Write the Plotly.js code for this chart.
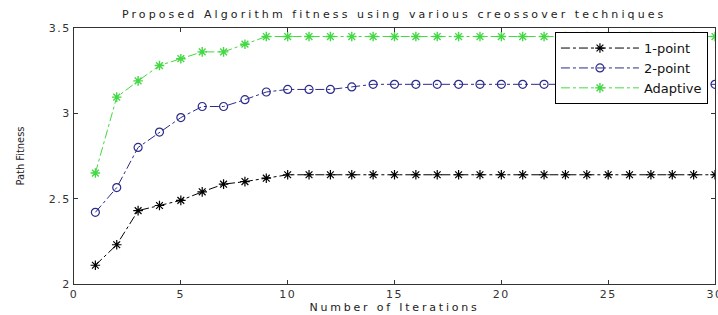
<!DOCTYPE html>
<html>
<head>
<meta charset="utf-8">
<script src="https://cdn.plot.ly/plotly-3.0.1.min.js"></script>
<style>
html,body{margin:0;padding:0;background:#fff;}
#chart{width:718px;height:315px;}
#chart .gtitle{letter-spacing:3.1px;}
#chart .xtitle{letter-spacing:2.8px;}
#chart .xtick text, #chart .ytick text{letter-spacing:1.5px;}
</style>
</head>
<body>
<div id="chart"></div>
<script>
const iterations = [1,2,3,4,5,6,7,8,9,10,11,12,13,14,15,16,17,18,19,20,21,22,23,24,25,26,27,28,29,30];
const onePoint = [2.11,2.23,2.43,2.46,2.49,2.54,2.585,2.6,2.62,2.64,2.64,2.64,2.64,2.64,2.64,2.64,2.64,2.64,2.64,2.64,2.64,2.64,2.64,2.64,2.64,2.64,2.64,2.64,2.64,2.64];
const twoPoint = [2.42,2.565,2.80,2.89,2.975,3.04,3.04,3.08,3.125,3.14,3.14,3.14,3.155,3.17,3.17,3.17,3.17,3.17,3.17,3.17,3.17,3.17,3.17,3.17,3.17,3.17,3.17,3.17,3.17,3.17];
const adaptive = [2.65,3.095,3.19,3.28,3.32,3.36,3.36,3.405,3.45,3.45,3.45,3.45,3.45,3.45,3.45,3.45,3.45,3.45,3.45,3.45,3.45,3.45,3.45,3.45,3.45,3.45,3.45,3.45,3.45,3.45];
const seriesNames = ['1-point','2-point','Adaptive'];
const xTicks = [0,5,10,15,20,25,30];
const yTicks = [2,2.5,3,3.5];

const traces = [
  {x: iterations, y: onePoint, name: seriesNames[0], mode: 'lines+markers',
   line: {color: '#000000', width: 1, dash: 'dashdot'},
   marker: {symbol: 'asterisk-open', size: 8, color: '#000000', line: {color: '#000000', width: 1.2}}},
  {x: iterations, y: twoPoint, name: seriesNames[1], mode: 'lines+markers',
   line: {color: '#2b2b8c', width: 1, dash: 'dashdot'},
   marker: {symbol: 'circle-open', size: 8, color: '#2b2b8c', line: {color: '#2b2b8c', width: 1.2}}},
  {x: iterations, y: adaptive, name: seriesNames[2], mode: 'lines+markers',
   line: {color: '#44d844', width: 1, dash: 'dashdot'},
   marker: {symbol: 'asterisk-open', size: 8, color: '#44d844', line: {color: '#44d844', width: 1.4}}}
];

const layout = {
  width: 718, height: 315,
  margin: {l: 74, r: 3, t: 28, b: 31},
  paper_bgcolor: '#ffffff', plot_bgcolor: '#ffffff',
  font: {family: 'DejaVu Sans, Arial, sans-serif', size: 11, color: '#222'},
  title: {text: 'Proposed Algorithm fitness using various creossover techniques',
          font: {size: 11, color: '#222'}, x: 0.549, xanchor: 'center', y: 0.955, yanchor: 'middle'},
  xaxis: {range: [0, 30], tickvals: xTicks, ticktext: xTicks.map(String),
          ticks: 'inside', ticklen: 4, tickcolor: '#333', mirror: 'ticks',
          showline: true, linecolor: '#333', linewidth: 1, showgrid: false, zeroline: false,
          ticklabeloverflow: 'allow',
          tickfont: {size: 11, color: '#333'},
          title: {text: 'Number of Iterations', font: {size: 11, color: '#222'}, standoff: 3}},
  yaxis: {range: [2, 3.5], tickvals: yTicks, ticktext: ['2','2.5','3','3.5'],
          ticks: 'inside', ticklen: 4, tickcolor: '#333', mirror: 'ticks',
          showline: true, linecolor: '#333', linewidth: 1, showgrid: false, zeroline: false,
          tickfont: {size: 11, color: '#333'},
          title: {text: 'Path Fitness', font: {size: 11, color: '#222', family: 'DejaVu Sans Condensed, Liberation Sans Narrow, Arial'}, standoff: 26}},
  legend: {x: 0.989, xanchor: 'right', y: 0.984, yanchor: 'top',
           bgcolor: '#ffffff', bordercolor: '#000', borderwidth: 1,
           font: {size: 13, color: '#111'}, tracegroupgap: 0, itemwidth: 78},
  showlegend: true
};

Plotly.newPlot('chart', traces, layout, {displayModeBar: false, staticPlot: true});
</script>
</body>
</html>
